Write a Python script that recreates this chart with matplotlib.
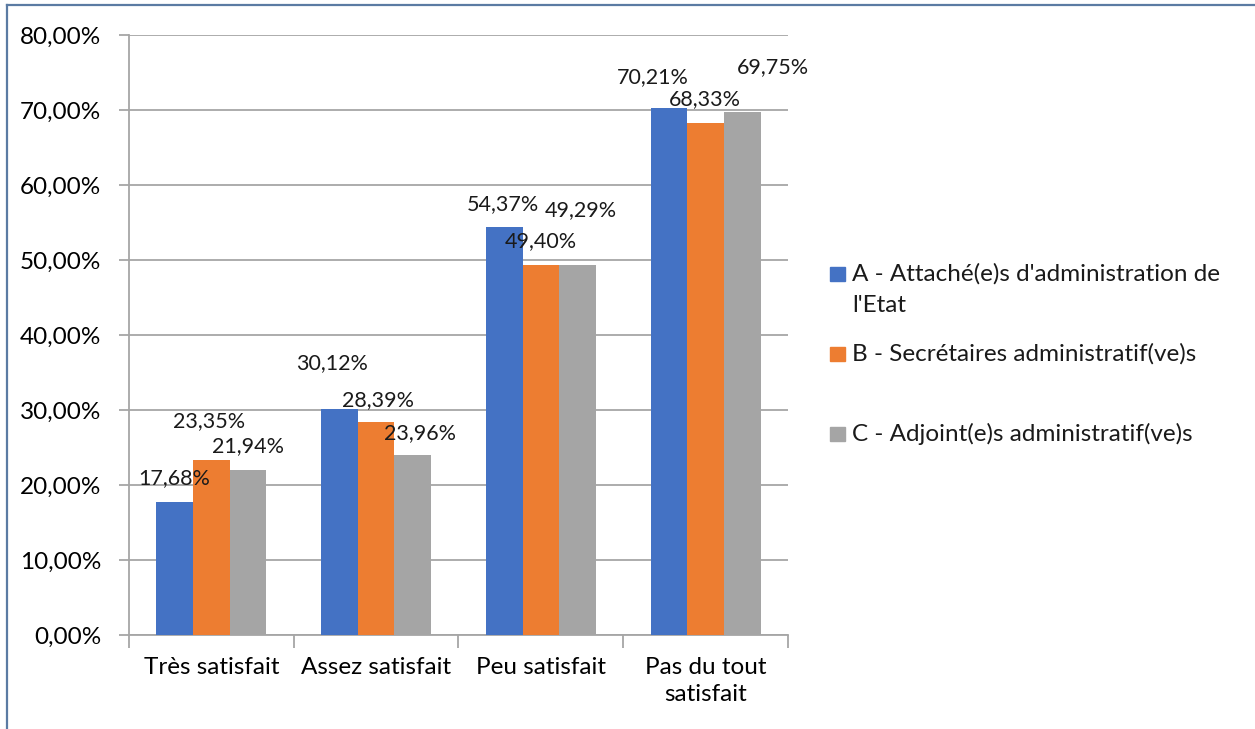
import numpy as np
import matplotlib
matplotlib.use("Agg")
import matplotlib.pyplot as plt
from matplotlib.patches import Rectangle
from matplotlib.lines import Line2D
from matplotlib.ticker import FuncFormatter

plt.rcParams['font.family'] = ['Lato', 'DejaVu Sans']

categories = ["Très satisfait", "Assez satisfait", "Peu satisfait", "Pas du tout\nsatisfait"]
series_names = ["A - Attaché(e)s d'administration de\nl'Etat",
                "B - Secrétaires administratif(ve)s",
                "C - Adjoint(e)s administratif(ve)s"]
attaches = [17.68, 30.12, 54.37, 70.21]
secretaires = [23.35, 28.39, 49.40, 68.33]
adjoints = [21.94, 23.96, 49.29, 69.75]
couleurs = ["#4472C4", "#ED7D31", "#A5A5A5"]

# decalage des etiquettes (pixels, par rapport au haut de la barre)
decalages = [
    [(0, 24), (-7.5, 46), (-1, 23), (-16.5, 31)],
    [(-2.5, 39), (2, 22), (0, 23), (-1, 23.5)],
    [(0, 24), (7.5, 22), (3, 55), (30.5, 45)],
]

fig = plt.figure(figsize=(12.55, 7.29), dpi=100)
ax = fig.add_axes([129 / 1255, 94 / 729, 659 / 1255, 600 / 729])

x = np.arange(len(categories))
largeur = 0.2225
series = [attaches, secretaires, adjoints]
for i, valeurs in enumerate(series):
    pos = x + (i - 1) * largeur
    ax.bar(pos, valeurs, width=largeur, color=couleurs[i], zorder=3)
    for j, v in enumerate(valeurs):
        dx, dy = decalages[i][j]
        ax.annotate(f"{v:.2f}%".replace(".", ","), xy=(pos[j], v),
                    xytext=(dx, dy), textcoords="offset pixels",
                    ha="center", va="center", fontsize=15.5, color="#1a1a1a",
                    zorder=6)

ax.set_xlim(-0.5, len(categories) - 0.5)
ax.set_ylim(0, 80)
ax.set_yticks(np.arange(0, 81, 10))
ax.yaxis.set_major_formatter(FuncFormatter(lambda v, p: f"{v:.2f}%".replace(".", ",")))
ax.grid(axis="y", color="#A6A6A6", linewidth=1.3, zorder=0)

ax.set_xticks(x)
ax.set_xticklabels(categories, fontsize=17.5, linespacing=1.35)
ax.set_xticks(np.arange(-0.5, len(categories)), minor=True)
ax.tick_params(axis="x", which="major", length=0, pad=16)
ax.tick_params(axis="x", which="minor", length=9, color="#A6A6A6", width=1.3)
ax.tick_params(axis="y", length=7, color="#A6A6A6", width=1.3, labelsize=17.5, pad=13)

for s in ["top", "right"]:
    ax.spines[s].set_visible(False)
for s in ["left", "bottom"]:
    ax.spines[s].set_color("#A6A6A6")
    ax.spines[s].set_linewidth(1.3)

# legende
W, H = 1255, 729
legende_y = [274, 354, 434]
for i, nom in enumerate(series_names):
    fig.patches.append(Rectangle((830 / W, 1 - (legende_y[i] + 7) / H), 15 / W, 14 / H,
                                 transform=fig.transFigure, color=couleurs[i]))
    lignes = nom.split("\n")
    for k, ligne in enumerate(lignes):
        fig.text(852 / W, 1 - (legende_y[i] + k * 32) / H, ligne,
                 fontsize=17.5, va="center", ha="left", color="#1a1a1a")

# cadre
fig.add_artist(Line2D([7 / W, 1], [1 - 5 / H, 1 - 5 / H], transform=fig.transFigure,
                      color="#5B7BA3", linewidth=1.6))
fig.add_artist(Line2D([7 / W, 7 / W], [0, 1 - 5 / H], transform=fig.transFigure,
                      color="#5B7BA3", linewidth=1.6))

fig.savefig("out.png", dpi=100)
